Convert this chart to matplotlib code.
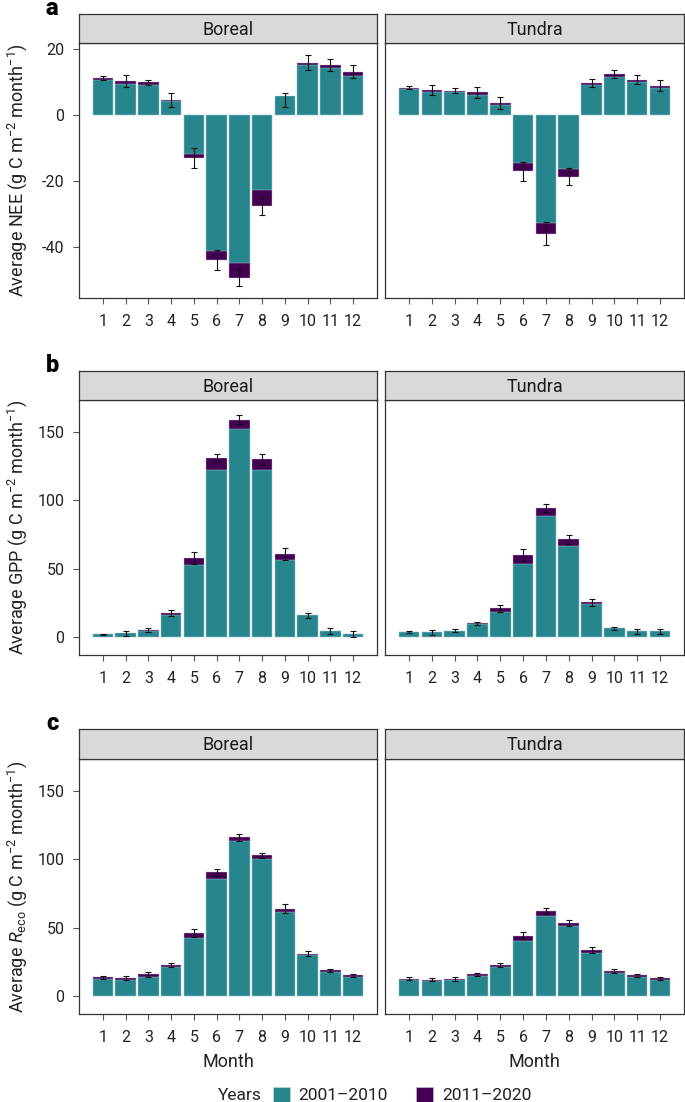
import numpy as np
import matplotlib
matplotlib.use('Agg')
import matplotlib.pyplot as plt
from matplotlib.patches import Patch

plt.rcParams['font.family'] = ['Roboto', 'DejaVu Sans']
plt.rcParams['mathtext.fontset'] = 'custom'
plt.rcParams['mathtext.rm'] = 'Roboto'
plt.rcParams['mathtext.it'] = 'Roboto:italic'
plt.rcParams['mathtext.bf'] = 'Roboto:bold'
plt.rcParams['axes.unicode_minus'] = False

months = np.arange(1, 13)
years = ['2001\u20132010', '2011\u20132020']
biomes = ['Boreal', 'Tundra']

# NEE
nee_boreal_0110 = [10.7, 9.5, 9.3, 4.4, -11.7, -41.3, -44.7, -22.6, 5.9, 15.1, 14.4, 11.9]
nee_boreal_1120 = [11.4, 10.4, 10.0, 4.6, -12.9, -43.8, -49.2, -27.4, 4.6, 15.9, 15.3, 13.2]
nee_boreal_err = [0.6, 1.8, 0.7, 2.1, 3.0, 3.0, 2.5, 2.7, 2.0, 2.3, 1.8, 1.9]
nee_tundra_0110 = [7.9, 7.0, 6.9, 6.1, 3.2, -14.4, -32.6, -16.4, 9.3, 11.6, 10.0, 8.2]
nee_tundra_1120 = [8.3, 7.7, 7.5, 6.9, 3.8, -17.0, -35.9, -18.6, 9.7, 12.5, 10.7, 9.0]
nee_tundra_err = [0.45, 1.6, 0.65, 1.6, 1.8, 2.9, 3.4, 2.5, 1.15, 1.3, 1.35, 1.75]

# GPP
gpp_boreal_0110 = [2.4, 2.9, 4.6, 16.1, 52.9, 122.4, 152.2, 122.4, 56.8, 16.0, 4.8, 2.7]
gpp_boreal_1120 = [2.2, 2.7, 5.4, 17.8, 58.0, 131.2, 159.0, 130.2, 60.7, 15.8, 4.6, 2.6]
gpp_boreal_err = [0.5, 2.0, 1.3, 2.4, 4.6, 3.0, 3.4, 4.1, 4.3, 2.0, 2.0, 2.2]
gpp_tundra_0110 = [4.1, 3.7, 4.9, 9.8, 18.5, 53.9, 88.5, 66.8, 24.4, 6.6, 4.6, 4.4]
gpp_tundra_1120 = [4.0, 3.6, 4.8, 10.2, 21.2, 60.2, 94.4, 71.5, 25.4, 6.4, 4.4, 4.1]
gpp_tundra_err = [0.8, 1.9, 1.1, 1.1, 2.4, 4.1, 2.7, 3.5, 2.9, 1.1, 1.7, 2.0]

# Reco
reco_boreal_0110 = [12.7, 12.0, 14.4, 21.5, 42.9, 85.4, 113.7, 100.5, 61.7, 30.2, 18.0, 14.1]
reco_boreal_1120 = [13.7, 13.2, 15.9, 22.9, 46.1, 90.5, 116.3, 103.2, 64.1, 31.2, 19.0, 15.4]
reco_boreal_err = [1.0, 1.3, 1.7, 1.6, 2.8, 2.7, 2.7, 1.8, 3.0, 1.6, 1.2, 1.0]
reco_tundra_0110 = [12.2, 11.2, 11.7, 15.1, 21.5, 40.7, 58.8, 51.2, 31.7, 17.3, 13.7, 12.0]
reco_tundra_1120 = [12.9, 12.2, 12.7, 16.1, 22.9, 44.1, 62.4, 53.9, 33.7, 18.5, 15.4, 13.2]
reco_tundra_err = [1.2, 1.1, 1.3, 1.2, 1.7, 2.6, 2.0, 2.2, 2.0, 1.2, 1.2, 1.2]

teal = '#27858E'
purple = '#440154'

W, H = 685, 1102
fig = plt.figure(figsize=(W / 100, H / 100), dpi=100)


def box(x0, y0, x1, y1):
    # pixel box (top-left origin) -> figure fraction rect
    return [x0 / W, 1 - y1 / H, (x1 - x0) / W, (y1 - y0) / H]


panels = [
    ('a', [(nee_boreal_0110, nee_boreal_1120, nee_boreal_err),
           (nee_tundra_0110, nee_tundra_1120, nee_tundra_err)],
     (-55.4, 21.9), [-40, -20, 0, 20],
     'Average NEE (g C m$^{-2}$ month$^{-1}$)', 14, 43, 298, False),
    ('b', [(gpp_boreal_0110, gpp_boreal_1120, gpp_boreal_err),
           (gpp_tundra_0110, gpp_tundra_1120, gpp_tundra_err)],
     (-13, 173.5), [0, 50, 100, 150],
     'Average GPP (g C m$^{-2}$ month$^{-1}$)', 371, 400, 655, False),
    ('c', [(reco_boreal_0110, reco_boreal_1120, reco_boreal_err),
           (reco_tundra_0110, reco_tundra_1120, reco_tundra_err)],
     (-13, 173.5), [0, 50, 100, 150],
     r'Average $R_{\rm eco}$ (g C m$^{-2}$ month$^{-1}$)', 729, 759, 1014, True),
]

xcols = [(79, 377), (385, 684)]

for letter, series, ylim, yticks, ylabel, strip_top, top, bottom, last in panels:
    for j, (v0110, v1120, err) in enumerate(series):
        x0, x1 = xcols[j]
        ax = fig.add_axes(box(x0, top, x1, bottom))
        ax.bar(months, v1120, width=0.9, color=purple, edgecolor='#c9b8d3', linewidth=0.3, zorder=2)
        ax.bar(months, v0110, width=0.9, color=teal, edgecolor='#b9d8dc', linewidth=0.3, zorder=3)
        ax.errorbar(months, v1120, yerr=err, fmt='none', ecolor='#111111',
                    elinewidth=0.8, capsize=2.2, capthick=0.8, zorder=4)
        ax.set_xlim(-0.05, 13.05)
        ax.set_ylim(*ylim)
        ax.set_xticks(months)
        ax.set_xticklabels([str(m) for m in months])
        ax.set_yticks(yticks)
        ax.tick_params(axis='both', labelsize=11.5, colors='#555555', labelcolor='#222222',
                       length=4.5, width=0.8)
        ax.tick_params(axis='x', pad=7)
        ax.tick_params(axis='y', pad=6)
        if j == 1:
            ax.tick_params(axis='y', left=False, labelleft=False)
        for sp in ax.spines.values():
            sp.set_color('#333333')
            sp.set_linewidth(0.9)
        if last:
            ax.set_xlabel('Month', fontsize=13, color='#222222', labelpad=6)

        sax = fig.add_axes(box(x0, strip_top, x1, top))
        sax.set_facecolor('#D9D9D9')
        sax.set_xticks([])
        sax.set_yticks([])
        for sp in sax.spines.values():
            sp.set_color('#333333')
            sp.set_linewidth(0.9)
        sax.text(0.5, 0.45, biomes[j], ha='center', va='center', fontsize=13, color='#1a1a1a',
                 transform=sax.transAxes)

    fig.text(17 / W, 1 - (top + bottom) / 2 / H, ylabel, rotation=90, ha='center', va='center',
             fontsize=13, color='#222222')
    fig.text(46 / W, 1 - (strip_top + 1) / H, letter, ha='left', va='baseline',
             fontsize=17, fontweight='black', color='black')

handles = [Patch(facecolor=teal, edgecolor='#b9d8dc', linewidth=0.5),
           Patch(facecolor=purple, edgecolor='#c9b8d3', linewidth=0.5)]
fig.legend(handles, years, ncol=2, loc='center', bbox_to_anchor=(402 / W, 1 - 1095 / H),
           frameon=False, fontsize=12.5, handlelength=1.0, handleheight=1.0,
           handletextpad=0.5, columnspacing=1.6, labelcolor='#222222')
fig.text(262 / W, 1 - 1095 / H, 'Years', ha='right', va='center', fontsize=12.5, color='#222222')

fig.savefig('out.png', dpi=100)
